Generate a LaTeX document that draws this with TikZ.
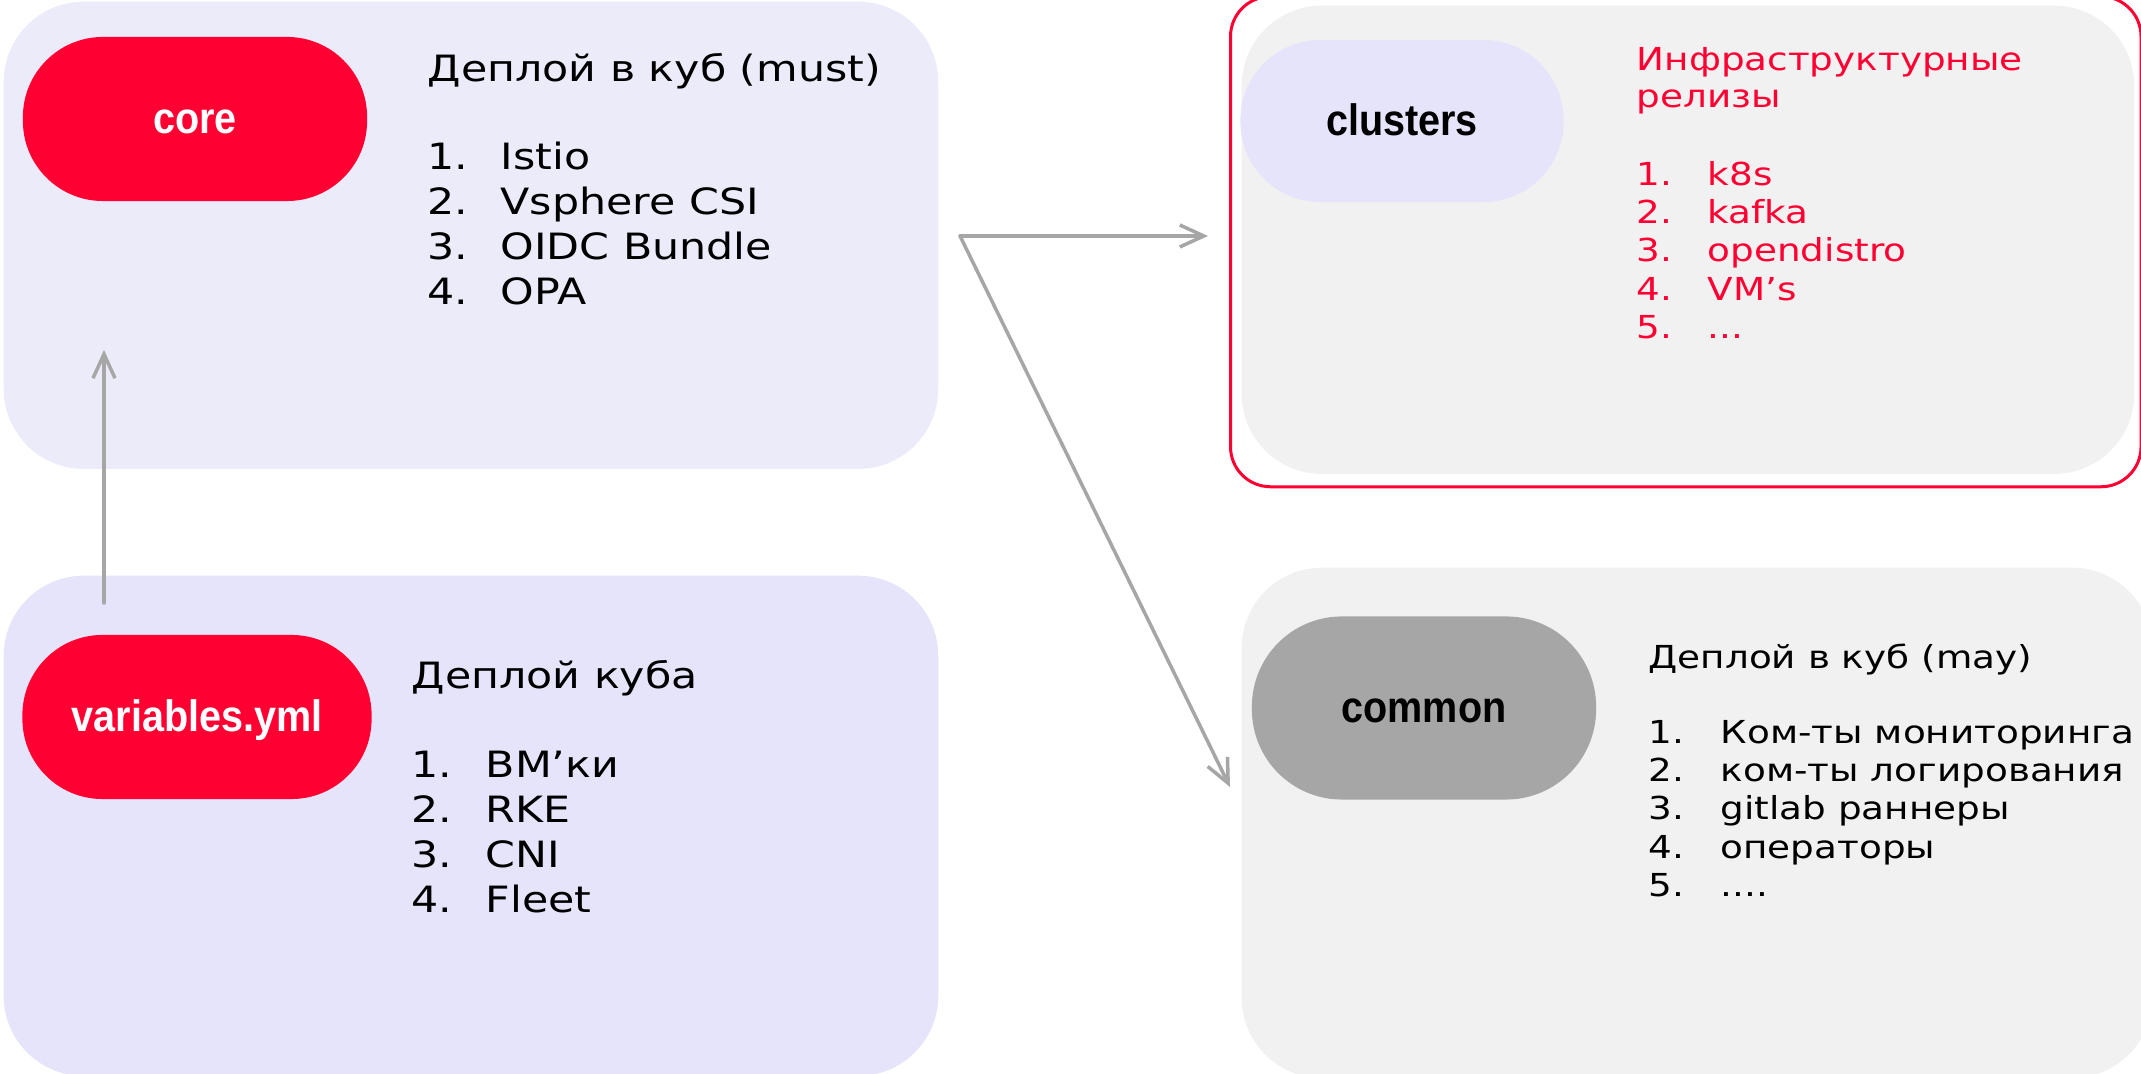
\documentclass[tikz,border=0pt]{standalone}
\usepackage{fontspec}
\setmainfont{DejaVu Sans}[FakeStretch=1.18]
\newfontfamily\pillfont{Liberation Sans}[FakeStretch=0.9]
\usetikzlibrary{arrows.meta}
\definecolor{brandred}{HTML}{FF0033}
\definecolor{corelav}{HTML}{ECEBF9}
\definecolor{deeplav}{HTML}{E6E4FA}
\definecolor{panelgray}{HTML}{F1F1F1}
\definecolor{midgray}{HTML}{A6A6A6}
\newcommand{\threedots}{...}
\newcommand{\fourdots}{....}

\begin{document}
\begin{tikzpicture}[
        x=0.01cm, y=-0.01cm,
        panel/.style={
            rounded corners=0.8cm,
            inner sep=0pt,
            anchor=north west
        },
        pill/.style={
            rounded corners=0.8cm,
            inner sep=0pt,
            text height=8.2pt,
            text depth=0pt,
            font={\pillfont\bfseries\fontsize{12.5}{15}\selectfont}
        },
        bigtxt/.style={anchor=base west, inner sep=0pt, font=\fontsize{10.3}{12}\selectfont},
        smalltxt/.style={anchor=base west, inner sep=0pt, font=\fontsize{9}{11}\selectfont},
        arrow/.style={-{Straight Barb[length=2.4mm, width=2.2mm]}, line width=0.35mm, line cap=round, draw=midgray}
    ]
        \useasboundingbox (0,0) rectangle (2141,1074);

        % background panels
        \node[panel, fill=corelav, minimum width=9.34cm, minimum height=4.67cm] (corepanel) at (3,1) {};
        \node[panel, fill=deeplav, minimum width=9.34cm, minimum height=5.0cm] (varspanel) at (3,575) {};
        \node[panel, draw=brandred, line width=0.3mm, rounded corners=0.4cm, minimum width=9.1cm, minimum height=4.9cm] (clusterframe) at (1229,-5) {};
        \node[panel, fill=panelgray, minimum width=8.92cm, minimum height=4.68cm] (clusterpanel) at (1241,5) {};
        \node[panel, fill=panelgray, minimum width=9.1cm, minimum height=5.1cm] (commonpanel) at (1241,567) {};

        % pills
        \node[pill, fill=brandred, text=white, minimum width=3.44cm, minimum height=1.64cm] (core) at (195,119) {core};
        \node[pill, fill=brandred, text=white, minimum width=3.49cm, minimum height=1.64cm] (variables) at (197,717) {variables.yml};
        \node[pill, fill=deeplav, text=black, minimum width=3.23cm, minimum height=1.62cm] (clusters) at (1402,121) {clusters};
        \node[pill, fill=midgray, text=black, rounded corners=0.9cm, minimum width=3.44cm, minimum height=1.83cm] (common) at (1424,708) {common};

        % core
        \node[bigtxt] (coretitle) at (427,82) {Деплой в куб (must)};
        \foreach \txt [count=\i] in {Istio, Vsphere CSI, OIDC Bundle, OPA} {
            \node[bigtxt] (corenum\i) at (427,125+45*\i) {\i.};
            \node[bigtxt] (coreitem\i) at (500,125+45*\i) {\txt};
        }

        % variables
        \node[bigtxt] (varstitle) at (411,689) {Деплой куба};
        \foreach \txt [count=\i] in {ВМ’ки, RKE, CNI, Fleet} {
            \node[bigtxt] (varsnum\i) at (411,733+45*\i) {\i.};
            \node[bigtxt] (varsitem\i) at (485,733+45*\i) {\txt};
        }

        % clusters
        \node[smalltxt, text=brandred] (clustertitle) at (1636,71) {Инфраструктурные};
        \node[smalltxt, text=brandred] (clustertitlb) at (1636,108) {релизы};
        \foreach \txt [count=\i] in {k8s, kafka, opendistro, VM’s, \threedots} {
            \node[smalltxt, text=brandred] (clusternum\i) at (1636,147+38.3*\i) {\i.};
            \node[smalltxt, text=brandred] (clusteritem\i) at (1707,147+38.3*\i) {\txt};
        }

        % common
        \node[smalltxt] (commontitle) at (1648,669) {Деплой в куб (may)};
        \foreach \txt [count=\i] in {Ком-ты мониторинга, ком-ты логирования, gitlab раннеры, операторы, \fourdots} {
            \node[smalltxt] (commonnum\i) at (1648,705+38.3*\i) {\i.};
            \node[smalltxt] (commonitem\i) at (1720,705+38.3*\i) {\txt};
        }

        % connectors
        \coordinate (varsup) at (104,603);
        \coordinate (coredown) at (104,350);
        \coordinate (fork) at (960,236);
        \coordinate (toclusters) at (1208,236);
        \coordinate (tocommon) at (1230,787);

        \draw[arrow] (varsup) -- (coredown);
        \draw[arrow] (fork) -- (toclusters);
        \draw[arrow] (fork) -- (tocommon);
    \end{tikzpicture}
\end{document}
